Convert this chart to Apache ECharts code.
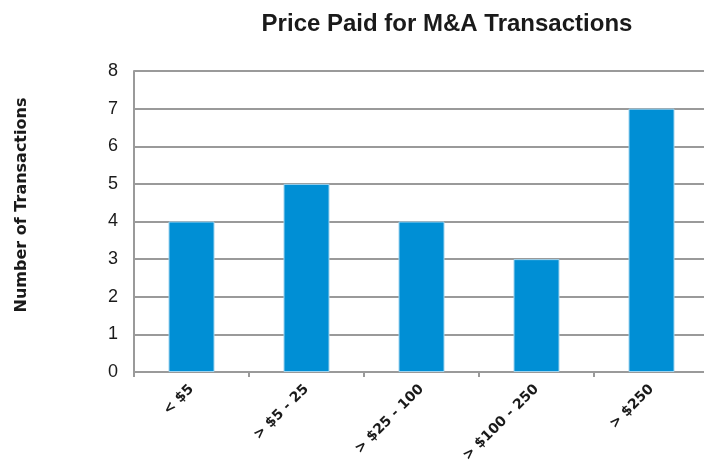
<!DOCTYPE html>
<html>
<head>
<meta charset="utf-8">
<script src="https://cdn.jsdelivr.net/npm/echarts@6/dist/echarts.min.js"></script>
<style>
  html, body { margin: 0; padding: 0; background: #fff; }
  #main { width: 704px; height: 467px; }
</style>
</head>
<body>
<div id="main"></div>
<script>
// data
var categories = ['< $5', '> $5 - 25', '> $25 - 100', '> $100 - 250', '> $250'];
var counts = [4, 5, 4, 3, 7];
var yTicks = { min: 0, max: 8, interval: 1 };

var chart = echarts.init(document.getElementById('main'));
var gridColor = '#9a9a9a';

var option = {
  animation: false,
  title: {
    text: 'Price Paid for M&A Transactions',
    left: 442,
    textAlign: 'center',
    top: 7,
    textStyle: { fontFamily: 'Liberation Sans, Arial', fontWeight: 'bold', fontSize: 24, color: '#1a1a1a' }
  },
  // y axis title placed slightly above the plot middle, as in the reference
  graphic: [{
    type: 'text',
    x: 22,
    y: 205,
    rotation: Math.PI / 2,
    style: {
      text: 'Number of Transactions',
      fontFamily: 'DejaVu Sans',
      fontWeight: 'bold',
      fontSize: 16,
      fill: '#1a1a1a',
      align: 'center',
      verticalAlign: 'middle'
    }
  }],
  grid: { left: 134, width: 575, top: 71, bottom: 95, outerBoundsMode: 'none' },
  xAxis: {
    type: 'category',
    data: categories,
    axisLine: { lineStyle: { color: gridColor, width: 2 } },
    axisTick: { show: true, length: 5, lineStyle: { color: gridColor, width: 2 } },
    axisLabel: {
      rotate: 45,
      interval: 0,
      margin: 15,
      fontFamily: 'DejaVu Sans',
      fontWeight: 'bold',
      fontSize: 14,
      color: '#1a1a1a'
    }
  },
  yAxis: {
    type: 'value',
    min: yTicks.min,
    max: yTicks.max,
    interval: yTicks.interval,
    axisLine: { show: true, lineStyle: { color: gridColor, width: 2 } },
    axisTick: { show: false },
    splitLine: { lineStyle: { color: gridColor, width: 2 } },
    axisLabel: {
      margin: 16,
      fontFamily: 'Liberation Sans, Arial',
      fontSize: 18,
      color: '#1a1a1a'
    }
  },
  series: [{
    type: 'bar',
    data: counts,
    barWidth: '40%',
    itemStyle: { color: '#008fd5', borderColor: '#9fd3ee', borderWidth: 1 }
  }]
};

chart.setOption(option);
</script>
</body>
</html>
